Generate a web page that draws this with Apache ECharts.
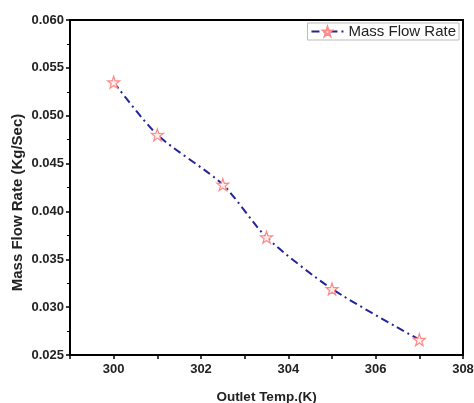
<!DOCTYPE html>
<html>
<head>
<meta charset="utf-8">
<script src="https://cdn.jsdelivr.net/npm/echarts@6/dist/echarts.min.js"></script>
<style>html,body{margin:0;padding:0;background:#fff;}#c{width:474px;height:403px;}</style>
</head>
<body>
<div id="c"></div>
<script>
const seriesName = 'Mass Flow Rate';
const temps = [300, 301, 302.5, 303.5, 305, 307];
const flowRates = [0.0535, 0.0480, 0.0428, 0.0373, 0.0319, 0.0266];
const xTickLabels = [300, 302, 304, 306, 308];
const yTickLabels = ['0.025','0.030','0.035','0.040','0.045','0.050','0.055','0.060'];

const starPath = 'path://M50,0 L61.8,35.1 L97.6,34.5 L69.1,56.4 L79.4,90.5 L50,70 L20.6,90.5 L30.9,56.4 L2.4,34.5 L38.2,35.1 Z';

const chart = echarts.init(document.getElementById('c'), null, {renderer: 'canvas'});
chart.setOption({
  animation: false,
  backgroundColor: '#ffffff',
  textStyle: {fontFamily: 'Liberation Sans, Arial, sans-serif'},
  grid: {left: 70, right: 11, top: 20, bottom: 48, outerBoundsMode: 'none', containLabel: false,
    show: true, borderColor: '#000', borderWidth: 2, backgroundColor: 'transparent'},
  legend: {
    show: true, right: 15, top: 23, orient: 'horizontal',
    borderColor: '#bbbbbb', borderWidth: 1, padding: [1, 3, 1, 3],
    itemWidth: 32, itemHeight: 11, itemGap: 4,
    textStyle: {fontSize: 15, color: '#222', fontFamily: 'Liberation Sans, Arial, sans-serif'},
    data: [seriesName]
  },
  xAxis: {
    type: 'value', min: 299, max: 308, interval: 1,
    name: 'Outlet Temp.(K)', nameLocation: 'middle', nameGap: 35, nameMoveOverlap: false,
    nameTextStyle: {fontSize: 13.5, fontWeight: 'bold', color: '#222'},
    axisLine: {show: true, lineStyle: {color: '#000', width: 2}},
    axisTick: {show: true, length: 4, lineStyle: {color: '#000', width: 1.5}},
    axisLabel: {fontSize: 13, fontWeight: 'bold', color: '#222', margin: 8,
      formatter: function (v) { return xTickLabels.indexOf(v) >= 0 ? String(v) : ''; }},
    splitLine: {show: false}
  },
  yAxis: {
    type: 'value', min: 0.025, max: 0.060, interval: 0.005,
    name: 'Mass Flow Rate (Kg/Sec)', nameLocation: 'middle', nameGap: 45, nameMoveOverlap: false,
    nameTextStyle: {fontSize: 15, fontWeight: 'bold', color: '#222', padding: [0, 30, 0, 0]},
    axisLine: {show: true, lineStyle: {color: '#000', width: 2}},
    axisTick: {show: true, length: 4, lineStyle: {color: '#000', width: 1.5}},
    minorTick: {show: true, splitNumber: 2, length: 3, lineStyle: {color: '#000', width: 1}},
    axisLabel: {fontSize: 13, fontWeight: 'bold', color: '#222', margin: 6,
      formatter: function (v) {
        const s = v.toFixed(3);
        return yTickLabels.indexOf(s) >= 0 ? s : '';
      }},
    splitLine: {show: false}
  },
  series: [{
    name: seriesName,
    type: 'line',
    data: temps.map((t, i) => [t, flowRates[i]]),
    smooth: 0.25,
    symbol: starPath,
    symbolSize: 12,
    showAllSymbol: true,
    lineStyle: {color: '#24249a', width: 2, type: [8, 4, 2, 4]},
    itemStyle: {color: '#fff0f0', borderColor: '#ff8a8a', borderWidth: 1.2},
    z: 3
  }]
});
</script>
</body>
</html>
